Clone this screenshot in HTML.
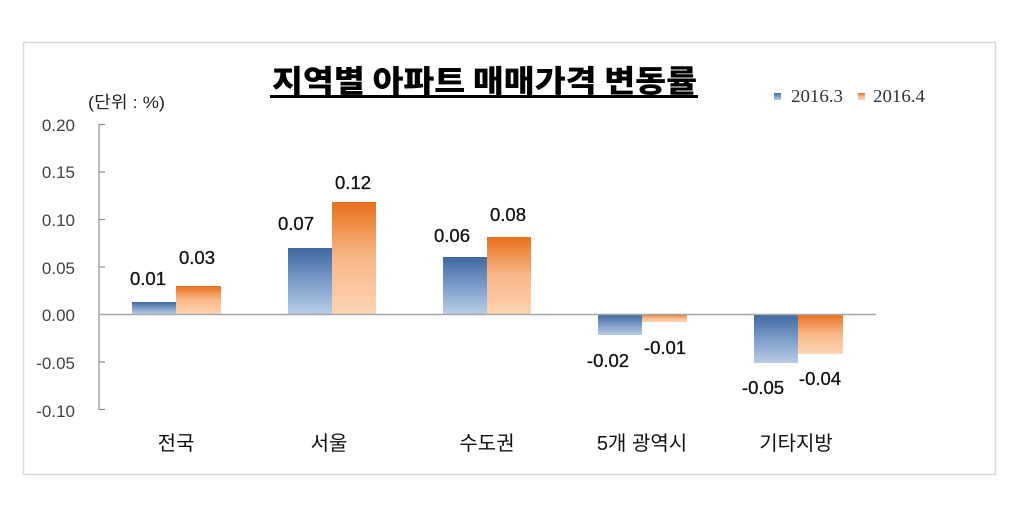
<!DOCTYPE html>
<html>
<head>
<meta charset="utf-8">
<style>
html,body{margin:0;padding:0;background:#fff;}
svg{display:block;}
text{font-family:"Liberation Sans","Noto Sans CJK KR",sans-serif;}
</style>
</head>
<body>
<svg width="1024" height="528" viewBox="0 0 1024 528" xmlns="http://www.w3.org/2000/svg">
<defs>
<linearGradient id="gb" x1="0" y1="0" x2="0" y2="1">
<stop offset="0" stop-color="#3f68a0"/>
<stop offset="0.5" stop-color="#7b9cc8"/>
<stop offset="1" stop-color="#b8cce6"/>
</linearGradient>
<linearGradient id="go" x1="0" y1="0" x2="0" y2="1">
<stop offset="0" stop-color="#e8701c"/>
<stop offset="0.5" stop-color="#f8b88a"/>
<stop offset="1" stop-color="#fcd4b2"/>
</linearGradient>
</defs>
<rect x="0" y="0" width="1024" height="528" fill="#fff"/>
<rect x="23.5" y="42.5" width="972" height="432" fill="#fff" stroke="#d9d9d9" stroke-width="1.5"/>

<!-- title -->
<g transform="translate(0,92) scale(1,1.1) translate(0,-92)">
<text x="272" y="92" font-size="28" font-weight="900" fill="#000" textLength="425" lengthAdjust="spacingAndGlyphs" style="font-family:'Noto Sans CJK KR',sans-serif;font-weight:900">지역별 아파트 매매가격 변동률</text>
</g>
<rect x="270" y="95" width="428" height="3" fill="#000"/>

<!-- unit -->
<text x="88" y="108" font-size="17" fill="#222" textLength="77" lengthAdjust="spacingAndGlyphs" style="font-family:'Liberation Sans','Noto Sans CJK KR',sans-serif">(단위 : %)</text>

<!-- legend -->
<rect x="774" y="93" width="7" height="7" fill="url(#gb)"/>
<text x="791" y="102" font-size="18" fill="#333" textLength="52" lengthAdjust="spacingAndGlyphs" style="font-family:'Liberation Serif',serif">2016.3</text>
<rect x="858" y="93" width="7" height="7" fill="url(#go)"/>
<text x="873" y="102" font-size="18" fill="#333" textLength="52" lengthAdjust="spacingAndGlyphs" style="font-family:'Liberation Serif',serif">2016.4</text>

<!-- y axis labels -->
<g font-size="17" fill="#404040" text-anchor="end">
<text x="75" y="131">0.20</text>
<text x="75" y="178">0.15</text>
<text x="75" y="226">0.10</text>
<text x="75" y="274">0.05</text>
<text x="75" y="321">0.00</text>
<text x="75" y="369">-0.05</text>
<text x="75" y="417">-0.10</text>
</g>

<!-- axis -->
<g stroke="#8c8c8c" stroke-width="1.2">
<line x1="99" y1="124" x2="99" y2="410"/>
<line x1="99" y1="124.5" x2="105" y2="124.5"/>
<line x1="99" y1="172" x2="105" y2="172"/>
<line x1="99" y1="219.5" x2="105" y2="219.5"/>
<line x1="99" y1="267" x2="105" y2="267"/>
<line x1="99" y1="362" x2="105" y2="362"/>
<line x1="99" y1="409.5" x2="105" y2="409.5"/>
</g>

<!-- bars -->
<rect x="132" y="302" width="44" height="12" fill="url(#gb)"/>
<rect x="176" y="286" width="45" height="28" fill="url(#go)"/>
<rect x="288" y="248" width="44" height="66" fill="url(#gb)"/>
<rect x="332" y="202" width="44" height="112" fill="url(#go)"/>
<rect x="443" y="257" width="44" height="57" fill="url(#gb)"/>
<rect x="487" y="237" width="44" height="77" fill="url(#go)"/>
<rect x="598" y="314" width="44" height="21" fill="url(#gb)"/>
<rect x="642" y="314" width="45" height="8" fill="url(#go)"/>
<rect x="754" y="314" width="44" height="49" fill="url(#gb)"/>
<rect x="798" y="314" width="45" height="40" fill="url(#go)"/>

<line x1="99" y1="314.5" x2="876" y2="314.5" stroke="#a6a6a6" stroke-width="1.5"/>

<!-- data labels -->
<g font-size="18.5" fill="#111" text-anchor="middle" stroke="#111" stroke-width="0.3">
<text x="148" y="285">0.01</text>
<text x="197" y="264">0.03</text>
<text x="296" y="230">0.07</text>
<text x="353" y="189">0.12</text>
<text x="452" y="242">0.06</text>
<text x="508" y="221">0.08</text>
<text x="608" y="367">-0.02</text>
<text x="665" y="354">-0.01</text>
<text x="763" y="394">-0.05</text>
<text x="820" y="385">-0.04</text>
</g>

<!-- category labels -->
<g font-size="20" fill="#111" text-anchor="middle" style="font-family:'Liberation Sans','Noto Sans CJK KR',sans-serif">
<text x="176" y="450">전국</text>
<text x="329" y="450">서울</text>
<text x="487" y="450">수도권</text>
<text x="642" y="450">5개 광역시</text>
<text x="796" y="450">기타지방</text>
</g>
</svg>
</body>
</html>
